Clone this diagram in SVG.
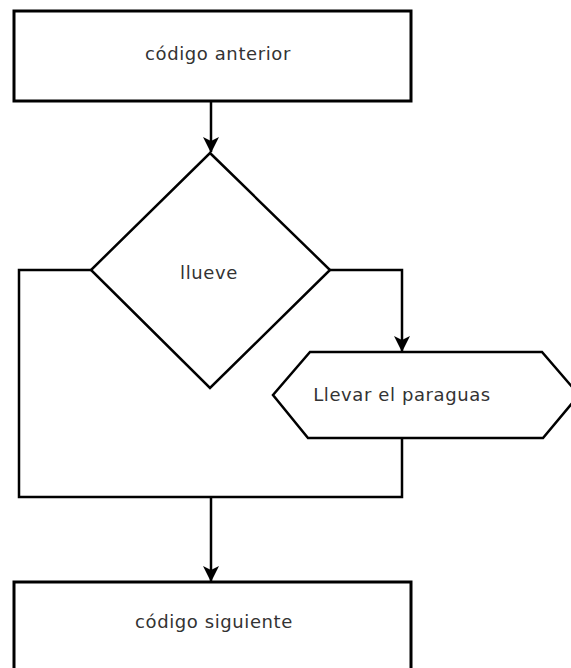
<svg xmlns="http://www.w3.org/2000/svg" width="571" height="668" viewBox="0 0 571 668">
<defs>
<style>
.box{fill:#fff;stroke:#000;stroke-width:3}
.shape{fill:#fff;stroke:#000;stroke-width:2.5;stroke-linejoin:miter}
.conn{fill:none;stroke:#000;stroke-width:2.5}
.lbl{font-family:"DejaVu Sans",sans-serif;font-size:18px;letter-spacing:0.6px;fill:#333;text-anchor:middle}
</style>
<marker id="arr" viewBox="0 0 16 16" refX="15" refY="8" markerWidth="16" markerHeight="16" markerUnits="userSpaceOnUse" orient="auto">
<path d="M0,0 L16,8 L0,16 L4,8 Z" fill="#000"/>
</marker>
</defs>
<rect width="571" height="668" fill="#fff"/>
<g id="connectors">
<path class="conn" d="M211,101 V152" marker-end="url(#arr)"/>
<path class="conn" d="M330,270 H402 V351" marker-end="url(#arr)"/>
<path class="conn" d="M91,270 H19 V497 H402 V438"/>
<path class="conn" d="M211,497 V581" marker-end="url(#arr)"/>
</g>
<g id="n1">
<rect class="box" x="14" y="11" width="397" height="90"/>
<text class="lbl" x="218" y="60">código anterior</text>
</g>
<g id="n2">
<polygon class="shape" points="210,153 330,270 210,388 91,270"/>
<text class="lbl" x="209" y="279">llueve</text>
</g>
<g id="n3">
<polygon class="shape" points="310,352 542,352 579,395 543,438 308,438 273,395"/>
<text class="lbl" x="402" y="401">Llevar el paraguas</text>
</g>
<g id="n4">
<rect class="box" x="14" y="582" width="397" height="100"/>
<text class="lbl" x="214" y="628">código siguiente</text>
</g>
</svg>
